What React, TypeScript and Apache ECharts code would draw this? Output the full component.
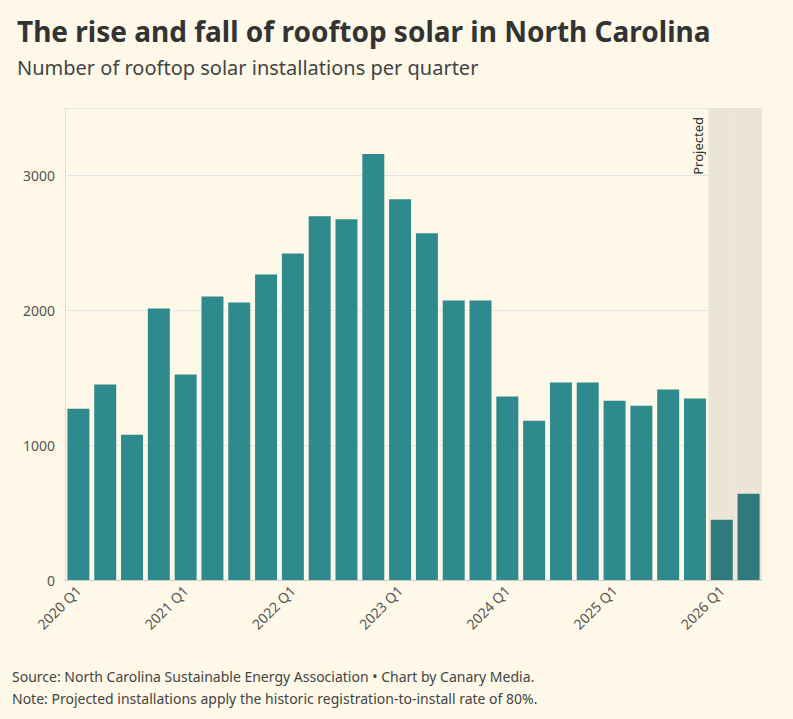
import { useEffect, useRef } from 'react';
import * as echarts from 'echarts';

const quarters = [
  '2020 Q1', '2020 Q2', '2020 Q3', '2020 Q4',
  '2021 Q1', '2021 Q2', '2021 Q3', '2021 Q4',
  '2022 Q1', '2022 Q2', '2022 Q3', '2022 Q4',
  '2023 Q1', '2023 Q2', '2023 Q3', '2023 Q4',
  '2024 Q1', '2024 Q2', '2024 Q3', '2024 Q4',
  '2025 Q1', '2025 Q2', '2025 Q3', '2025 Q4',
  '2026 Q1', '2026 Q2',
];
const installs = [
  1270, 1449, 1077, 2013,
  1523, 2103, 2058, 2266,
  2422, 2697, 2675, 3158,
  2823, 2571, 2073, 2073,
  1360, 1181, 1464, 1464,
  1330, 1293, 1412, 1345,
  446, 639,
];
const projectedFrom = 24;
const yMax = 3500;

const FONT = 'Noto Sans';

export default function App() {
  const chartRef = useRef<HTMLDivElement>(null);

  useEffect(() => {
    if (!chartRef.current) return;
    const chart = echarts.init(chartRef.current, null, { renderer: 'svg' });

    const option = {
      animation: false,
      backgroundColor: '#fdf8e8',
      textStyle: { fontFamily: FONT },
      title: {
        text: 'The rise and fall of rooftop solar in North Carolina',
        subtext: 'Number of rooftop solar installations per quarter',
        left: 12,
        top: 12,
        itemGap: 12,
        textStyle: { fontFamily: FONT, fontSize: 28, fontWeight: 'bold', color: '#333' },
        subtextStyle: { fontFamily: FONT, fontSize: 20, color: '#444' },
      },
      graphic: [
        {
          type: 'text',
          left: 12,
          top: 665,
          style: {
            text: 'Source: North Carolina Sustainable Energy Association • Chart by Canary Media.\nNote: Projected installations apply the historic registration-to-install rate of 80%.',
            font: `14px "${FONT}"`,
            fill: '#444',
            lineHeight: 22,
          },
        },
      ],
      grid: { left: 65, right: 31, top: 108, bottom: 139 },
      xAxis: [
        {
          type: 'category',
          data: quarters,
          axisLine: { lineStyle: { color: '#ccc' } },
          axisTick: { show: false },
          axisLabel: {
            interval: (i: number) => i % 4 === 0,
            rotate: 45,
            fontSize: 14,
            color: '#555',
            margin: 8,
          },
        },
        { type: 'category', data: quarters, show: false },
      ],
      yAxis: {
        type: 'value',
        min: 0,
        max: yMax,
        interval: 1000,
        axisLine: { show: true, lineStyle: { color: '#ddd' } },
        splitLine: { lineStyle: { color: '#e6e3e6' } },
        axisLabel: {
          fontSize: 14,
          color: '#555',
          margin: 10,
          showMaxLabel: false,
          formatter: (v: number) => (v === yMax ? '' : String(v)),
        },
      },
      series: [
        {
          type: 'bar',
          xAxisIndex: 1,
          barWidth: '100%',
          silent: true,
          z: 1,
          itemStyle: { color: '#ebe5d6' },
          data: quarters.map((_, i) => (i >= projectedFrom ? yMax : null)),
          label: {
            show: true,
            position: 'insideTopLeft',
            rotate: 90,
            align: 'right',
            verticalAlign: 'top',
            offset: [-4, -22],
            color: '#333',
            fontSize: 13,
            formatter: (p: any) => (p.dataIndex === projectedFrom ? 'Projected' : ''),
          },
        },
        {
          type: 'bar',
          barCategoryGap: '18%',
          z: 2,
          data: installs.map((v, i) => ({
            value: v,
            itemStyle: { color: i >= projectedFrom ? '#2f7a7c' : '#2e8a8c' },
          })),
        },
      ],
    };
    chart.setOption(option);
    return () => chart.dispose();
  }, []);

  return (
    <div
      ref={chartRef}
      style={{ position: 'absolute', left: 0, top: 0, width: 793, height: 719 }}
    />
  );
}
